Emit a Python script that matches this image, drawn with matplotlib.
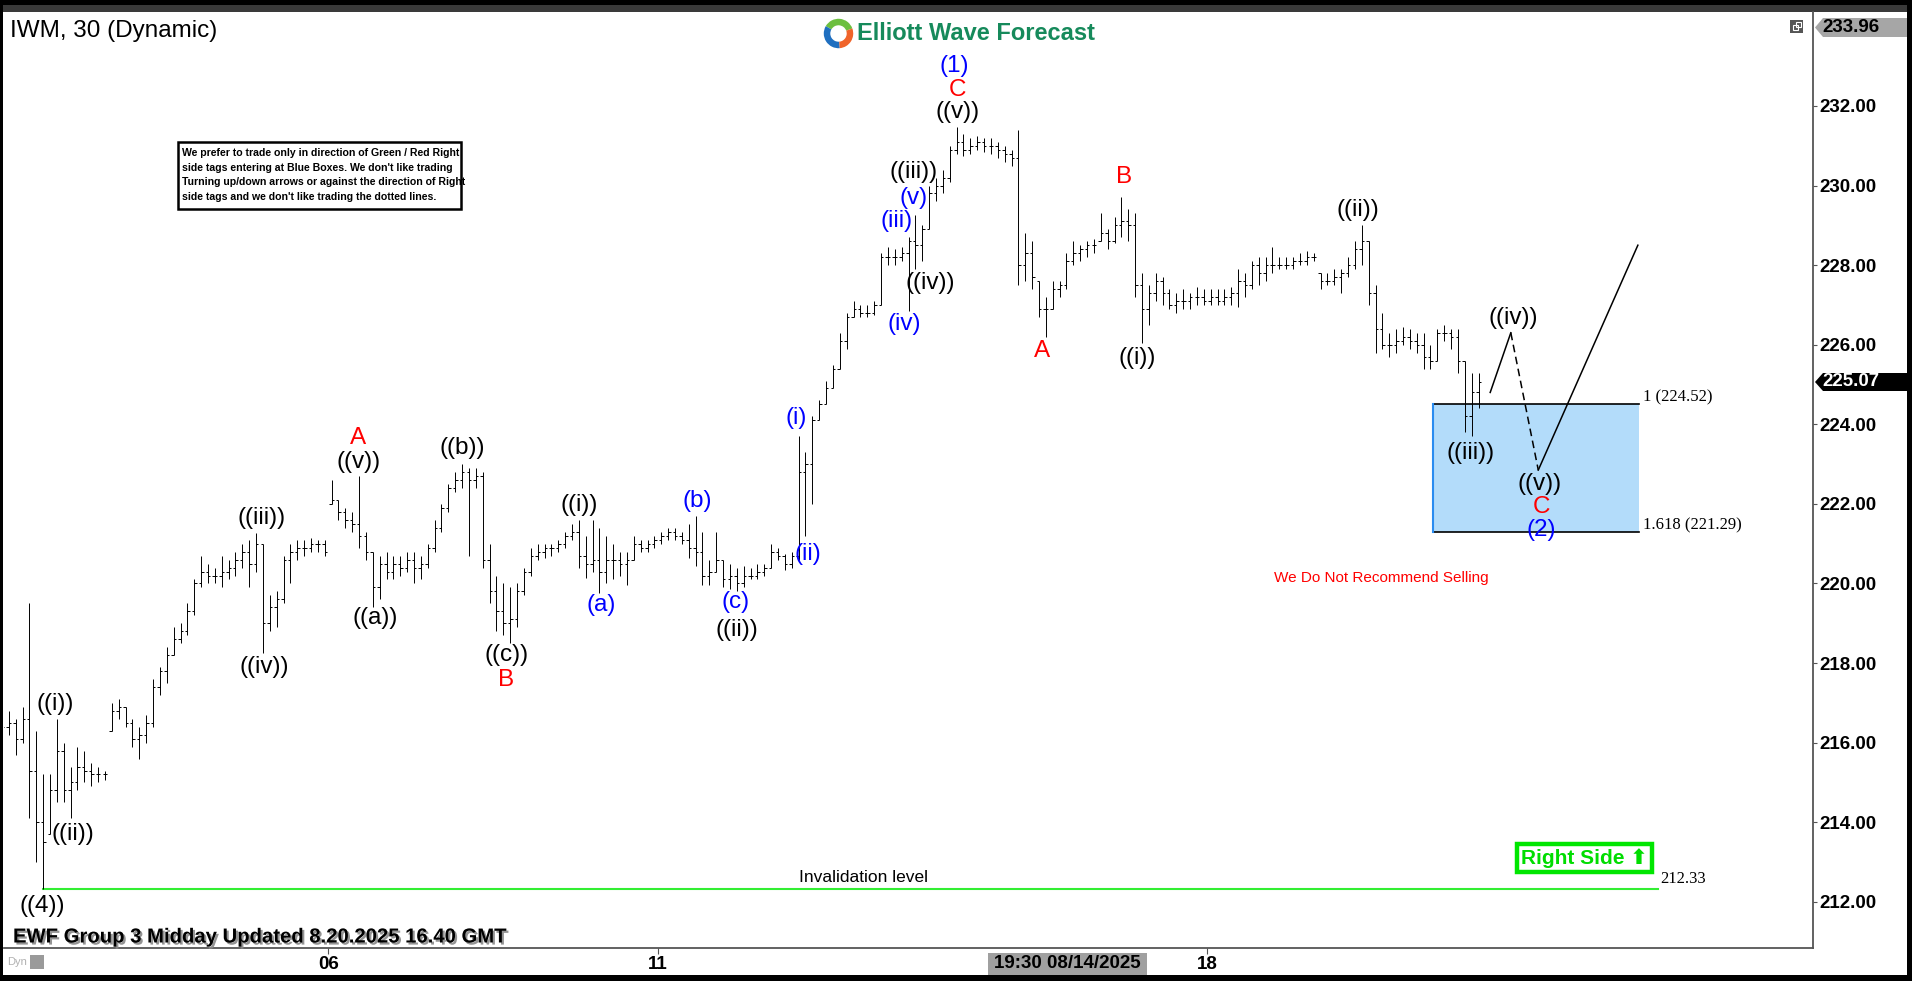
import numpy as np
import matplotlib
matplotlib.use('Agg')
import matplotlib.pyplot as plt
from matplotlib.collections import LineCollection
from matplotlib.patches import Rectangle, Polygon, Wedge
import matplotlib.patheffects as pe

plt.rcParams['font.family'] = ['Liberation Sans', 'DejaVu Sans']
NARROW = ['Liberation Sans Narrow', 'Liberation Sans', 'DejaVu Sans']

W, H = 1912, 981

# 30 min bars, two real bars per entry, one row per session
bar_high = [
    216.7, 216.8, 216.6, 216.9, 219.5, 216.3, 215.2, 215.2, 216.6, 216.0, 215.4, 215.9, 215.8, 215.5, 215.4, 215.3,
    217.0, 217.1, 216.9, 216.6, 216.4, 216.7, 217.6, 217.9, 218.4, 218.9, 219.0, 219.5, 220.1, 220.7, 220.5, 220.4,
    220.7, 220.6, 220.8, 221.0, 221.1, 221.27, 221.0, 219.7, 219.8, 220.7, 221.0, 221.1, 221.1, 221.15, 221.1, 221.1,
    222.6, 222.1, 221.9, 221.8, 222.7, 221.3, 220.8, 220.7, 220.8, 220.7, 220.7, 220.8, 220.8, 220.7, 221.0, 221.6,
    222.0, 222.5, 222.8, 223.0, 222.9, 222.9, 222.8, 221.0, 220.2, 220.0, 219.9, 220.0, 220.4, 220.9, 221.0, 221.0,
    221.0, 221.1, 221.3, 221.5, 221.6, 221.2, 221.6, 221.4, 221.2, 221.0, 220.8, 220.8, 221.2, 221.1, 221.1, 221.2,
    221.3, 221.4, 221.4, 221.3, 221.5, 221.7, 221.3, 220.6, 221.3, 220.6, 220.5, 220.4, 220.45, 220.4, 220.5, 220.5,
    221.0, 220.9, 220.75, 220.8, 223.7, 223.3, 224.2, 224.6, 225.1, 225.5, 226.3, 226.8, 227.1, 227.0, 227.0, 227.1,
    228.3, 228.45, 228.4, 228.45, 228.7, 229.25, 229.0, 230.0, 230.2, 230.4, 231.0, 231.47, 231.3, 231.2, 231.25, 231.2,
    231.2, 231.1, 231.0, 230.9, 231.4, 228.8, 228.6, 227.6, 227.2, 227.6, 227.6, 228.3, 228.6, 228.5, 228.6, 228.65,
    229.3, 228.9, 229.2, 229.7, 229.4, 229.3, 227.8, 227.5, 227.8, 227.7, 227.4, 227.3, 227.4, 227.3, 227.45, 227.4,
    227.4, 227.4, 227.4, 227.45, 227.9, 227.8, 228.1, 228.2, 228.2, 228.45, 228.2, 228.2, 228.2, 228.3, 228.35, 228.3,
    227.8, 227.8, 227.9, 227.9, 228.2, 228.6, 229.0, 228.6, 227.5, 226.8, 226.3, 226.4, 226.45, 226.4, 226.3, 226.3,
    226.0, 226.4, 226.5, 226.4, 226.4, 225.6, 225.3, 225.3,
]
bar_low = [
    216.1, 216.2, 215.7, 216.0, 214.1, 213.0, 212.33, 213.7, 214.5, 214.5, 214.1, 214.8, 215.0, 214.9, 215.0, 215.05,
    216.3, 216.6, 216.4, 215.9, 215.6, 216.0, 216.4, 217.2, 217.5, 218.2, 218.5, 218.7, 219.2, 219.9, 220.0, 220.0,
    219.9, 220.1, 220.2, 220.4, 219.9, 220.3, 218.25, 218.8, 218.9, 219.5, 220.0, 220.6, 220.7, 220.8, 220.8, 220.7,
    222.0, 221.6, 221.4, 221.3, 220.9, 220.6, 219.4, 219.6, 220.1, 220.1, 220.2, 220.3, 220.0, 220.1, 220.4, 220.8,
    221.3, 221.8, 222.3, 222.4, 220.7, 222.4, 220.4, 219.5, 218.8, 218.7, 218.5, 218.9, 219.7, 220.2, 220.6, 220.65,
    220.7, 220.8, 220.9, 221.1, 220.4, 220.15, 220.3, 219.75, 220.0, 220.1, 220.2, 219.95, 220.6, 220.8, 220.8, 220.9,
    221.0, 221.1, 221.1, 221.0, 220.65, 220.45, 219.95, 219.95, 220.3, 219.9, 219.85, 219.8, 219.9, 220.1, 220.1, 220.2,
    220.4, 220.6, 220.35, 220.4, 220.6, 221.2, 222.0, 224.1, 224.5, 224.9, 225.4, 225.9, 226.7, 226.7, 226.7, 226.75,
    227.0, 228.0, 228.0, 228.1, 226.85, 227.9, 228.1, 228.9, 229.6, 229.8, 230.1, 230.8, 230.75, 230.8, 230.9, 230.85,
    230.8, 230.7, 230.6, 230.5, 227.5, 227.6, 227.4, 226.7, 226.2, 226.9, 227.2, 227.4, 228.0, 228.1, 228.2, 228.3,
    228.6, 228.4, 228.55, 228.7, 228.6, 227.2, 226.05, 226.5, 227.1, 227.0, 226.9, 226.8, 226.9, 226.9, 227.0, 227.0,
    227.0, 227.0, 227.0, 227.0, 226.95, 227.2, 227.4, 227.5, 227.6, 227.8, 227.9, 227.9, 227.9, 228.0, 228.0, 228.1,
    227.4, 227.5, 227.5, 227.3, 227.7, 227.9, 228.0, 227.0, 225.8, 225.9, 225.7, 225.8, 226.0, 225.9, 225.8, 225.4,
    225.4, 225.6, 226.1, 225.9, 225.3, 223.8, 223.7, 224.4,
]
bar_close = [
    216.4, 216.5, 216.1, 216.6, 215.3, 214.0, 213.5, 214.8, 215.8, 214.8, 215.0, 215.4, 215.3, 215.2, 215.2, 215.2,
    216.8, 216.9, 216.5, 216.1, 216.2, 216.5, 217.4, 217.8, 218.2, 218.6, 218.8, 219.3, 220.0, 220.3, 220.2, 220.2,
    220.3, 220.4, 220.6, 220.8, 220.5, 221.0, 219.0, 219.4, 219.6, 220.6, 220.8, 220.9, 220.9, 221.0, 221.0, 220.8,
    222.1, 221.8, 221.6, 221.5, 221.2, 220.8, 219.9, 220.5, 220.3, 220.5, 220.4, 220.6, 220.4, 220.5, 220.9, 221.4,
    221.9, 222.4, 222.6, 222.8, 222.6, 222.7, 220.6, 219.8, 219.3, 219.0, 219.1, 219.8, 220.3, 220.7, 220.8, 220.9,
    220.9, 221.0, 221.2, 221.3, 220.7, 220.5, 220.6, 220.3, 220.6, 220.6, 220.5, 220.6, 221.0, 220.9, 221.0, 221.1,
    221.2, 221.3, 221.2, 221.1, 220.9, 220.8, 220.2, 220.3, 220.6, 220.1, 220.2, 220.0, 220.2, 220.2, 220.3, 220.4,
    220.8, 220.7, 220.5, 220.7, 222.8, 223.0, 224.1, 224.5, 224.9, 225.4, 226.1, 226.7, 226.9, 226.8, 226.8, 227.0,
    228.2, 228.2, 228.2, 228.3, 228.6, 228.5, 228.9, 229.8, 230.0, 230.2, 230.9, 231.1, 230.9, 231.0, 231.1, 231.0,
    231.0, 230.9, 230.8, 230.7, 228.0, 228.3, 227.7, 226.9, 226.9, 227.4, 227.5, 228.1, 228.3, 228.4, 228.5, 228.5,
    228.8, 228.6, 229.0, 229.1, 229.0, 227.5, 226.9, 227.3, 227.6, 227.3, 227.0, 227.1, 227.1, 227.2, 227.2, 227.1,
    227.2, 227.1, 227.2, 227.3, 227.6, 227.5, 228.0, 227.8, 228.0, 228.0, 228.0, 228.0, 228.1, 228.1, 228.2, 228.2,
    227.6, 227.6, 227.7, 227.8, 228.0, 228.4, 228.6, 227.3, 226.4, 226.0, 226.0, 226.1, 226.2, 226.1, 226.0, 225.7,
    225.6, 226.3, 226.3, 226.2, 225.6, 224.2, 224.8, 225.07,
]
bars_per_day = [16] * 13 + [8]
day_labels = ['01', '04', '05', '06', '07', '08', '11', '12', '13', '14', '15', '18', '19', '20']
shown_days = ['06', '11', '18']

price_ticks = [212, 214, 216, 218, 220, 222, 224, 226, 228, 230, 232]
last_price = 225.07
top_price = 233.96
invalidation = 212.33
fib_1 = 224.52
fib_1618 = 221.29

# projected path ((iii)) -> ((iv)) -> ((v)) -> up
proj_x = [216.7, 219.7, 223.7, 238.2]
proj_y = [224.8, 226.3, 222.85, 228.5]
box_x = [208.4, 238.3]

# wave labels: (bar position, price, text, colour)
K, R, B = 'black', '#ff0000', '#0000ff'
wave_labels = [
    (7.8, 216.97, '((i))', K), (10.4, 213.71, '((ii))', K), (5.8, 211.9, '((4))', K),
    (37.8, 221.65, '((iii))', K), (38.2, 217.9, '((iv))', K),
    (51.9, 223.66, 'A', R), (51.9, 223.06, '((v))', K), (54.3, 219.14, '((a))', K),
    (67.0, 223.41, '((b))', K), (73.5, 218.21, '((c))', K), (73.4, 217.58, 'B', R),
    (84.0, 221.97, '((i))', K), (87.2, 219.46, '(a)', B), (101.3, 222.08, '(b)', B),
    (106.8, 219.54, '(c)', B), (107.0, 218.83, '((ii))', K),
    (115.7, 224.16, '(i)', B), (117.3, 220.74, '(ii)', B), (131.4, 226.52, '(iv)', B),
    (130.3, 229.11, '(iii)', B), (132.7, 229.69, '(v)', B), (132.7, 230.34, '((iii))', K),
    (135.2, 227.55, '((iv))', K), (139.1, 231.85, '((v))', K), (139.1, 232.40, 'C', R),
    (138.7, 233.0, '(1)', B),
    (151.4, 225.84, 'A', R), (163.4, 230.22, 'B', R), (165.3, 225.67, '((i))', K),
    (197.5, 229.39, '((ii))', K), (213.9, 223.28, '((iii))', K),
    (220.0, 226.67, '((iv))', K), (223.9, 222.5, '((v))', K), (224.1, 221.92, 'C', R),
    (224.1, 221.35, '(2)', B),
]

disclaimer = ["We prefer to trade only in direction of Green / Red Right",
              "side tags entering at Blue Boxes. We don't like trading",
              "Turning up/down arrows or against the direction of Right",
              "side tags and we don't like trading the dotted lines."]


def fx(px):
    return px / W


def fy(py):
    return 1 - py / H


# bar positions, sessions packed next to each other
pos = []
day_start = []
n = 0
for k in bars_per_day:
    day_start.append(n)
    pos += list(range(n, n + k))
    n += k
pos = np.array(pos, float)
highs = np.array(bar_high)
lows = np.array(bar_low)
closes = np.array(bar_close)
opens = np.clip(np.r_[closes[0], closes[:-1]], lows, highs)

fig = plt.figure(figsize=(W / 100, H / 100), dpi=100, facecolor='black')
fig.add_artist(Rectangle((fx(3), fy(975)), fx(1907) - fx(3), fy(12) - fy(975),
                         transform=fig.transFigure, fc='white', ec='none', zorder=-5))
fig.add_artist(Rectangle((fx(3), fy(12)), fx(1907) - fx(3), fy(5) - fy(12),
                         transform=fig.transFigure, fc='#3a3a3a', ec='none', zorder=-5))

ax = fig.add_axes([fx(4), fy(948), (1813 - 4) / W, (948 - 12) / H])
ax.set_facecolor('white')
ax.set_xlim(0.3, 263.7)
ax.set_ylim(210.84, 234.36)

# OHLC bars
t = 0.35
segs = []
for x, o, h, l, c in zip(pos, opens, highs, lows, closes):
    segs.append([(x, l), (x, h)])
    segs.append([(x - t, o), (x, o)])
    segs.append([(x, c), (x + t, c)])
ax.add_collection(LineCollection(segs, colors='black', linewidths=0.7, zorder=3))

# blue box
ax.add_patch(Rectangle((box_x[0], fib_1618), box_x[1] - box_x[0], fib_1 - fib_1618,
                       fc='#b3dcfa', ec='none', zorder=1))
ax.plot(box_x, [fib_1, fib_1], color='black', lw=1.2, zorder=2)
ax.plot(box_x, [fib_1618, fib_1618], color='black', lw=1.2, zorder=2)
ax.plot([box_x[0], box_x[0]], [fib_1618, fib_1], color='#2a8cf0', lw=1.5, zorder=2)
ax.text(box_x[1] + 0.6, fib_1 + 0.15, '1 (%.2f)' % fib_1, family='Liberation Serif',
        fontsize=12, ha='left', va='center')
ax.text(box_x[1] + 0.6, fib_1618 + 0.18, '1.618 (%.2f)' % fib_1618, family='Liberation Serif',
        fontsize=12, ha='left', va='center')

# projection
ax.plot(proj_x[:2], proj_y[:2], color='black', lw=1.1, zorder=4)
ax.plot(proj_x[1:3], proj_y[1:3], color='black', lw=1.1, ls=(0, (5, 3)), zorder=4)
ax.plot(proj_x[2:], proj_y[2:], color='black', lw=1.1, zorder=4)

# invalidation level
i_low = int(np.argmin(lows))
ax.plot([pos[i_low], 241.1], [invalidation, invalidation], color='#33ee33', lw=1.5, zorder=2)
ax.text(125.5, invalidation + 0.27, 'Invalidation level', family=NARROW, fontsize=12.5,
        ha='center', va='center')
ax.text(241.5, invalidation + 0.25, '%.2f' % invalidation, family='Liberation Serif',
        fontsize=12, ha='left', va='center')

ax.text(200.8, 220.14, 'We Do Not Recommend Selling', family=NARROW, color='#ff0000',
        fontsize=11, ha='center', va='center')

ax.text(230.4, 213.1, 'Right Side \u2b06', family=['Liberation Sans', 'DejaVu Sans'],
        fontsize=15, fontweight='bold', color='#00dd00', ha='center', va='center',
        bbox=dict(boxstyle='square,pad=0.2', fc='white', ec='#00e600', lw=3.2))

for x, y, s, c in wave_labels:
    ax.text(x, y, s, color=c, fontsize=17.5, ha='center', va='center', zorder=5)

# axes look
for side in ['top', 'left']:
    ax.spines[side].set_visible(False)
for side in ['right', 'bottom']:
    ax.spines[side].set_color('#555555')
    ax.spines[side].set_linewidth(1.3)
ax.yaxis.tick_right()
ax.set_yticks(price_ticks)
ax.set_yticklabels(['%.2f' % p for p in price_ticks])
ax.tick_params(axis='y', direction='out', length=3, width=0.8, color='#555555',
               labelsize=13.5, pad=1.5)
tick_pos = [day_start[day_labels.index(d)] - 0.5 for d in shown_days]
ax.set_xticks(tick_pos)
ax.set_xticklabels(shown_days)
ax.tick_params(axis='x', direction='out', length=4, width=0.8, color='#555555',
               labelsize=13.5, pad=2)
for lab in ax.get_xticklabels() + ax.get_yticklabels():
    lab.set_fontweight('bold')

# price tags on the scale
fig.add_artist(Polygon([(fx(1815), fy(27.5)), (fx(1823), fy(18)), (fx(1907), fy(18)),
                        (fx(1907), fy(37)), (fx(1823), fy(37))], closed=True,
                       transform=fig.transFigure, fc='#a6a6a6', ec='none', zorder=5))
fig.text(fx(1822), fy(28), '%.2f' % top_price, fontsize=13.5, fontweight='bold',
         ha='left', va='center', zorder=6)
fig.add_artist(Polygon([(fx(1815), fy(382)), (fx(1823), fy(373)), (fx(1907), fy(373)),
                        (fx(1907), fy(391)), (fx(1823), fy(391))], closed=True,
                       transform=fig.transFigure, fc='black', ec='none', zorder=5))
fig.text(fx(1822), fy(382), '%.2f' % last_price, fontsize=13.5, fontweight='bold',
         color='white', ha='left', va='center', zorder=6)

# crosshair time tag
fig.add_artist(Rectangle((fx(988), fy(975)), fx(1147) - fx(988), fy(953) - fy(975),
                         transform=fig.transFigure, fc='#a0a0a0', ec='none', zorder=5))
fig.text(fx(1067), fy(964), '19:30 08/14/2025', fontsize=13.5, fontweight='bold',
         ha='center', va='center', zorder=6)

# little icons
fig.add_artist(Rectangle((fx(1790), fy(33)), 13 / W, 13 / H, transform=fig.transFigure,
                         fc='#555555', ec='none', zorder=5))
fig.add_artist(Rectangle((fx(1793), fy(30)), 5 / W, 5 / H, transform=fig.transFigure,
                         fc='none', ec='white', lw=0.8, zorder=6))
fig.add_artist(Rectangle((fx(1796), fy(27)), 5 / W, 5 / H, transform=fig.transFigure,
                         fc='none', ec='white', lw=0.8, zorder=6))
fig.text(fx(7), fy(962), 'Dyn', fontsize=8, color='#b0b0b0', ha='left', va='center')
fig.add_artist(Rectangle((fx(30), fy(969)), 14 / W, 14 / H, transform=fig.transFigure,
                         fc='#9a9a9a', ec='none', zorder=5))

# header texts
fig.text(fx(10), fy(31), 'IWM, 30 (Dynamic)', fontsize=17.5, ha='left', va='center')
fig.text(fx(857), fy(34), 'Elliott Wave Forecast', fontsize=17, fontweight='bold',
         color='#168a5b', ha='left', va='center')
lax = fig.add_axes([fx(823), fy(49), 31 / W, 31 / H])
lax.set_xlim(-1, 1)
lax.set_ylim(-1, 1)
lax.axis('off')
lax.add_patch(Wedge((0, 0), 0.95, 20, 150, width=0.42, fc='#6cbf3f'))
lax.add_patch(Wedge((0, 0), 0.95, 150, 275, width=0.42, fc='#1f6fc0'))
lax.add_patch(Wedge((0, 0), 0.95, 275, 20, width=0.42, fc='#f0642a'))

fig.text(fx(13), fy(937), 'EWF Group 3 Midday Updated 8.20.2025 16.40 GMT', fontsize=14.6,
         fontweight='bold', ha='left', va='center',
         path_effects=[pe.withSimplePatchShadow(offset=(1.5, -1.5), shadow_rgbFace='#888888',
                                                alpha=0.9)])

# disclaimer box
fig.add_artist(Rectangle((fx(178), fy(209)), fx(461) - fx(178), fy(142) - fy(209),
                         transform=fig.transFigure, fc='white', ec='black', lw=1.8, zorder=5))
for k, line in enumerate(disclaimer):
    fig.text(fx(182), fy(153 + k * 14.7), line, family=NARROW, fontsize=7.6,
             fontweight='bold', ha='left', va='center', zorder=6)

fig.savefig('out.png', dpi=100, facecolor=fig.get_facecolor())
